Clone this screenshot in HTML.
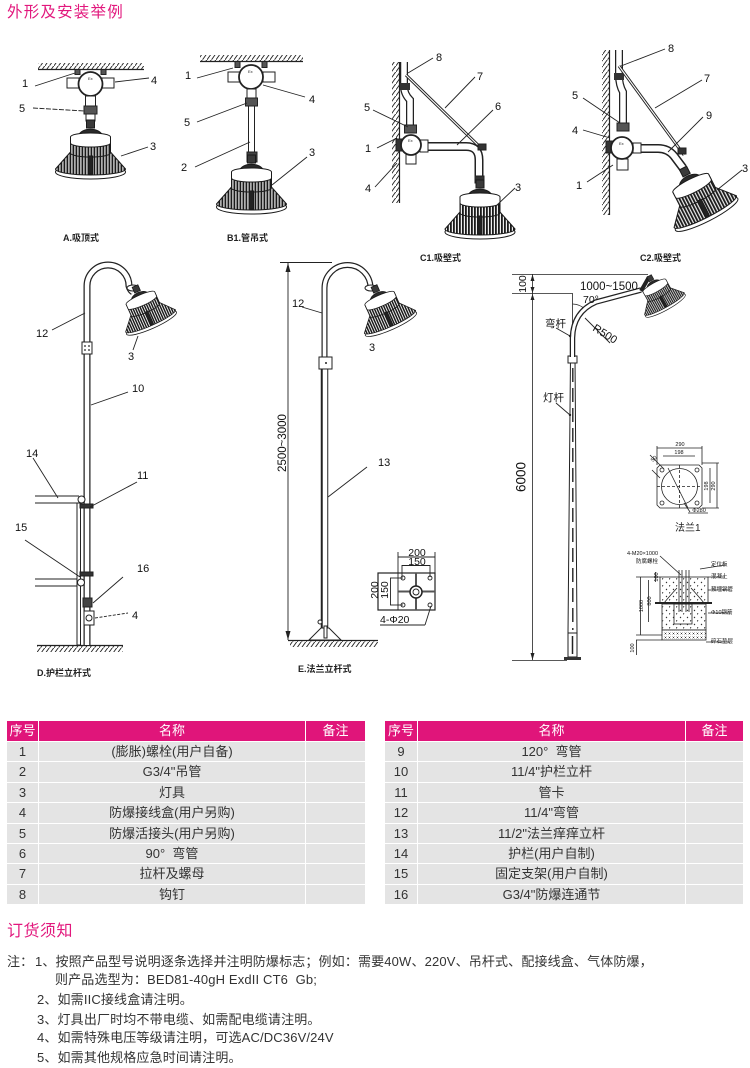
<!DOCTYPE html>
<html><head><meta charset="utf-8">
<style>
*{margin:0;padding:0;box-sizing:border-box}
body{width:750px;height:1068px;background:#fff;position:relative;overflow:hidden;font-family:"Liberation Sans","Noto Sans CJK SC",sans-serif;color:#333}
.ttl{position:absolute;color:#e2187d;font-size:15.5px;letter-spacing:1.2px;line-height:18px;white-space:nowrap}
.tbl{position:absolute;top:721px;display:grid;gap:1px;background:#fff;grid-template-rows:20px repeat(8,19.4px)}
.tbl div{background:#e4e4e4;font-size:13px;line-height:19.4px;text-align:center;color:#333;white-space:nowrap}
.tbl .h{background:#e0157a;color:#fff;line-height:20px}
.nt{position:absolute;font-size:13px;line-height:19px;white-space:nowrap;color:#333;letter-spacing:0.15px}
svg text{font-family:"Liberation Sans","Noto Sans CJK SC",sans-serif}
</style></head><body>

<div class="ttl" style="left:7px;top:4px">外形及安装举例</div>

<svg width="750" height="700" style="position:absolute;left:0;top:0" xmlns="http://www.w3.org/2000/svg">
<defs>
<pattern id="hat" width="4.5" height="6" patternUnits="userSpaceOnUse"><path d="M-0.5,6.5 L4.5,-0.5" stroke="#222" stroke-width="0.9"/></pattern>
<pattern id="fin" width="3" height="4" patternUnits="userSpaceOnUse"><rect width="3" height="4" fill="#eee"/><rect width="1.8" height="4" fill="#1a1a1a"/></pattern>
<pattern id="conc" width="7" height="7" patternUnits="userSpaceOnUse"><rect width="7" height="7" fill="#fff"/><circle cx="1.5" cy="1.5" r="0.7" fill="#333"/><path d="M4,4 l1.6,0.8 l-1.6,0.9z" fill="#333"/></pattern>
<pattern id="xs" width="4" height="4" patternUnits="userSpaceOnUse"><rect width="4" height="4" fill="#fff"/><path d="M0.5,0.5 L2.5,2.5 M2.5,0.5 L0.5,2.5" stroke="#333" stroke-width="0.5"/></pattern>
<g id="lamp" stroke="#1a1a1a" stroke-width="1">
 <rect x="-4" y="0" width="8" height="8" fill="#3a3a3a"/>
 <path d="M-12,16 C-10,7 10,7 12,16 Z" fill="#2a2a2a"/>
 <ellipse cx="0" cy="52" rx="35" ry="7" fill="#fff"/>
 <path d="M-20,32 L-35,49 A35,6 0 0 0 35,49 L20,32 Z" fill="url(#fin)"/>
 <path d="M-20,17 L-20,33 A20,4 0 0 0 20,33 L20,17 Z" fill="url(#fin)"/>
 <path d="M-20,17 A20,4 0 0 1 20,17 L20,23 A20,4 0 0 1 -20,23 Z" fill="#fff"/>
 <rect x="-2" y="36" width="4" height="18" fill="#222"/>
</g>
</defs>

<!-- ===== A ===== -->
<rect x="38" y="63" width="106" height="6" fill="url(#hat)"/>
<line x1="38" y1="69.5" x2="144" y2="69.5" stroke="#222" stroke-width="1.2"/>
<g stroke="#222" stroke-width="1">
<rect x="75" y="69.5" width="5" height="5" fill="#555"/>
<rect x="101" y="69.5" width="5" height="5" fill="#555"/>
<rect x="67" y="78" width="12" height="10" fill="#fff"/>
<rect x="102" y="78" width="12" height="10" fill="#fff"/>
<circle cx="90.5" cy="84" r="12" fill="#fff" stroke-width="1.8"/>
<rect x="85.5" y="96" width="10" height="10" fill="#fff"/>
<rect x="84" y="106" width="13" height="8" fill="#555"/>
<rect x="86" y="114" width="9" height="7" fill="#fff"/>
</g>
<text x="88" y="80" font-size="4" fill="#222">Ex</text>
<use href="#lamp" transform="translate(90.5,120)"/>
<g stroke="#222" stroke-width="0.9" fill="none">
<path d="M35,86 L75,73"/><path d="M115,82 L149,78"/><path d="M33,108 L85,111" stroke-dasharray="5 1.5"/><path d="M121,156 L148,147"/>
</g>
<g font-size="11" fill="#111">
<text x="22" y="87">1</text><text x="151" y="84">4</text><text x="19" y="112">5</text><text x="150" y="150">3</text>
</g>
<text x="63" y="241" font-size="9" font-weight="bold" fill="#222">A.吸顶式</text>

<!-- ===== B1 ===== -->
<rect x="200" y="55" width="103" height="6" fill="url(#hat)"/>
<line x1="200" y1="61.5" x2="303" y2="61.5" stroke="#222" stroke-width="1.2"/>
<g stroke="#222" stroke-width="1">
<rect x="235" y="61.5" width="5" height="6" fill="#555"/>
<rect x="262" y="61.5" width="5" height="6" fill="#555"/>
<rect x="228" y="72" width="12" height="10" fill="#fff"/>
<rect x="263" y="72" width="12" height="10" fill="#fff"/>
<circle cx="251" cy="77" r="12" fill="#fff" stroke-width="1.8"/>
<rect x="247" y="89" width="9" height="9" fill="#fff"/>
<rect x="245.5" y="98" width="12" height="8" fill="#555"/>
<rect x="248.5" y="106" width="6" height="47" fill="#fff"/>
<rect x="247" y="152" width="10" height="10" fill="#444"/>
</g>
<text x="248" y="73" font-size="4" fill="#222">Ex</text>
<use href="#lamp" transform="translate(251.5,155)"/>
<g stroke="#222" stroke-width="0.9" fill="none">
<path d="M197,78 L233,68"/><path d="M263,85 L305,97"/><path d="M197,122 L247,103"/><path d="M195,167 L250,142"/><path d="M272,185 L307,157"/>
</g>
<g font-size="11" fill="#111">
<text x="185" y="79">1</text><text x="309" y="103">4</text><text x="184" y="126">5</text><text x="181" y="171">2</text><text x="309" y="156">3</text>
</g>
<text x="227" y="241" font-size="9" font-weight="bold" fill="#222">B1.管吊式</text>

<!-- ===== C1 ===== -->
<rect x="392" y="62" width="7" height="141" fill="url(#hat)"/>
<line x1="399.5" y1="62" x2="399.5" y2="203" stroke="#222" stroke-width="1.2"/>
<path d="M404,62 L404,86 Q404,94 410,100 L410,126" stroke="#222" stroke-width="8" fill="none"/>
<path d="M404,62 L404,86 Q404,94 410,100 L410,126" stroke="#fff" stroke-width="5.5" fill="none"/>
<rect x="400" y="83" width="10" height="7" fill="#333"/>
<line x1="406" y1="75" x2="482" y2="149" stroke="#222" stroke-width="3"/>
<line x1="406" y1="75" x2="482" y2="149" stroke="#fff" stroke-width="1.1"/>
<path d="M428,146.5 L466,146.5 Q479,146.5 479,160 L479,178" stroke="#222" stroke-width="9" fill="none"/>
<path d="M428,146.5 L466,146.5 Q479,146.5 479,160 L479,178" stroke="#fff" stroke-width="6" fill="none"/>
<g stroke="#222" stroke-width="1">
<rect x="404.5" y="125" width="12" height="8" fill="#555"/>
<rect x="396" y="139" width="7" height="12" fill="#333"/>
<rect x="420" y="140" width="8" height="12" fill="#fff"/>
<rect x="406" y="152" width="10" height="12" fill="#fff"/>
<circle cx="411" cy="145" r="10" fill="#fff" stroke-width="1.8"/>
<rect x="478" y="144" width="8" height="6" fill="#333"/>
<rect x="475" y="176" width="9" height="7" fill="#333"/>
</g>
<text x="408" y="142" font-size="4" fill="#222">Ex</text>
<use href="#lamp" transform="translate(480,180)"/>
<g stroke="#222" stroke-width="0.9" fill="none">
<path d="M408,73 L433,58"/><path d="M445,108 L475,77"/><path d="M457,145 L493,110"/><path d="M373,110 L408,127"/><path d="M377,148 L397,138"/><path d="M375,187 L397,163"/><path d="M497,205 L515,188"/>
</g>
<g font-size="11" fill="#111">
<text x="436" y="61">8</text><text x="477" y="80">7</text><text x="495" y="110">6</text><text x="364" y="111">5</text><text x="365" y="152">1</text><text x="365" y="192">4</text><text x="515" y="191">3</text>
</g>
<text x="420" y="261" font-size="9" font-weight="bold" fill="#222">C1.吸壁式</text>

<!-- ===== C2 ===== -->
<rect x="602" y="50" width="7" height="165" fill="url(#hat)"/>
<line x1="609.5" y1="50" x2="609.5" y2="215" stroke="#222" stroke-width="1.2"/>
<path d="M619,50 L619,75 Q619,85 623,92 L623,125" stroke="#222" stroke-width="8" fill="none"/>
<path d="M619,50 L619,75 Q619,85 623,92 L623,125" stroke="#fff" stroke-width="5.5" fill="none"/>
<rect x="614" y="73" width="10" height="7" fill="#333"/>
<line x1="619" y1="66" x2="684" y2="155" stroke="#222" stroke-width="3"/>
<line x1="619" y1="66" x2="684" y2="155" stroke="#fff" stroke-width="1.1"/>
<path d="M640,148.5 L658,148.5 Q668,148.5 674,156 L683,168" stroke="#222" stroke-width="9" fill="none"/>
<path d="M640,148.5 L658,148.5 Q668,148.5 674,156 L683,168" stroke="#fff" stroke-width="6" fill="none"/>
<g stroke="#222" stroke-width="1">
<rect x="617" y="123" width="12" height="8" fill="#555"/>
<rect x="606" y="141" width="7" height="12" fill="#333"/>
<rect x="633" y="143" width="8" height="10" fill="#fff"/>
<rect x="617" y="159" width="11" height="11" fill="#fff"/>
<circle cx="622" cy="148" r="11" fill="#fff" stroke-width="1.8"/>
<rect x="678" y="148" width="8" height="6" fill="#333"/>
</g>
<text x="619" y="145" font-size="4" fill="#222">Ex</text>
<use href="#lamp" transform="translate(683,168) rotate(-27)"/>
<g stroke="#222" stroke-width="0.9" fill="none">
<path d="M621,66 L665,49"/><path d="M655,108 L702,80"/><path d="M583,98 L620,123"/><path d="M583,130 L610,138"/><path d="M668,152 L703,117"/><path d="M587,182 L613,165"/><path d="M717,190 L742,170"/>
</g>
<g font-size="11" fill="#111">
<text x="668" y="52">8</text><text x="704" y="82">7</text><text x="572" y="99">5</text><text x="572" y="134">4</text><text x="706" y="119">9</text><text x="576" y="189">1</text><text x="742" y="172">3</text>
</g>
<text x="640" y="261" font-size="9" font-weight="bold" fill="#222">C2.吸壁式</text>

<!-- ===== D ===== -->
<rect x="37" y="646" width="86" height="6" fill="url(#hat)"/>
<line x1="37" y1="645.5" x2="123" y2="645.5" stroke="#222" stroke-width="1.2"/>
<g stroke="#222" stroke-width="1" fill="none">
<line x1="35" y1="496" x2="79" y2="496"/><line x1="35" y1="503" x2="79" y2="503"/>
<line x1="35" y1="579" x2="78" y2="579"/><line x1="35" y1="586" x2="78" y2="586"/>
<rect x="77" y="503" width="3.5" height="142" fill="#fff"/>
</g>
<path d="M87,645 L87,286 A21,21 0 0 1 129,286 Q130,290 133,292" stroke="#222" stroke-width="7" fill="none"/>
<path d="M87,645 L87,286 A21,21 0 0 1 129,286 Q130,290 133,292" stroke="#fff" stroke-width="4.5" fill="none"/>
<g stroke="#222" stroke-width="1">
<circle cx="81.5" cy="499.5" r="3.5" fill="#fff"/>
<circle cx="81" cy="582.5" r="3.5" fill="#fff"/>
<rect x="82" y="342" width="10" height="12" fill="#fff"/>
<rect x="80" y="504" width="13" height="4" fill="#333"/>
<rect x="80" y="572" width="13" height="4" fill="#333"/>
<rect x="83" y="598" width="9" height="9" fill="#444"/>
<rect x="84" y="611" width="10" height="14" fill="#fff"/>
<circle cx="89" cy="618" r="3" fill="#fff"/>
<ellipse cx="133" cy="288" rx="6" ry="3" fill="#fff"/>
</g>
<circle cx="85" cy="346" r="0.9" fill="#222"/><circle cx="89" cy="346" r="0.9" fill="#222"/><circle cx="85" cy="350" r="0.9" fill="#222"/><circle cx="89" cy="350" r="0.9" fill="#222"/>
<use href="#lamp" transform="translate(135,286) rotate(-24) scale(0.78)"/>
<g stroke="#222" stroke-width="0.9" fill="none">
<path d="M52,330 L85,313"/><path d="M133,350 L138,336"/><path d="M91,405 L128,392"/><path d="M33,458 L58,498"/><path d="M90,507 L137,482"/><path d="M25,540 L80,577"/><path d="M123,577 L93,603"/><path d="M95,618 L128,613" stroke-dasharray="3 1.5"/>
</g>
<g font-size="11" fill="#111">
<text x="36" y="337">12</text><text x="128" y="360">3</text><text x="132" y="392">10</text><text x="26" y="457">14</text><text x="137" y="479">11</text><text x="15" y="531">15</text><text x="137" y="572">16</text><text x="132" y="619">4</text>
</g>
<text x="37" y="676" font-size="9" font-weight="bold" fill="#222">D.护栏立杆式</text>

<!-- ===== E ===== -->
<g stroke="#222" stroke-width="0.9" fill="none">
<line x1="280" y1="262.5" x2="332" y2="262.5"/>
<line x1="288" y1="262" x2="288" y2="640"/>
</g>
<polygon points="288,263 285.5,272 290.5,272" fill="#222"/>
<polygon points="288,640 285.5,631 290.5,631" fill="#222"/>
<text x="283" y="443" transform="rotate(-90 283 443)" text-anchor="middle" dominant-baseline="middle" font-size="11.5" fill="#111">2500~3000</text>
<rect x="290" y="641" width="88" height="6" fill="url(#hat)"/>
<line x1="288" y1="640.5" x2="378" y2="640.5" stroke="#222" stroke-width="1.2"/>
<path d="M324.5,628 L324.5,368" stroke="#222" stroke-width="7.5"/>
<path d="M325,628 L325,368" stroke="#fff" stroke-width="4.5"/>
<path d="M324.5,358 L324.5,288 A23,23 0 0 1 370.5,288" stroke="#222" stroke-width="6" fill="none"/>
<path d="M324.5,358 L324.5,288 A23,23 0 0 1 370.5,288" stroke="#fff" stroke-width="3.6" fill="none"/>
<g stroke="#222" stroke-width="1">
<path d="M309,640 L321,628 L329,628 L341,640 Z" fill="#fff"/>
<rect x="324" y="626" width="3" height="12" fill="#fff"/>
<circle cx="320" cy="622" r="2" fill="#fff"/>
<rect x="319" y="357" width="13" height="12" fill="#fff"/>
<ellipse cx="371" cy="288" rx="6" ry="3" fill="#fff"/>
</g>
<circle cx="326" cy="363" r="1" fill="#222"/>
<use href="#lamp" transform="translate(374,286) rotate(-24) scale(0.8)"/>
<g stroke="#222" stroke-width="0.9" fill="none">
<path d="M302,307 L322,313"/><path d="M367,467 L328,497"/>
</g>
<g font-size="11" fill="#111">
<text x="292" y="307">12</text><text x="369" y="351">3</text><text x="378" y="466">13</text>
</g>
<!-- flange plan -->
<g stroke="#222" stroke-width="0.9" fill="none">
<rect x="378" y="573" width="57" height="37" fill="#fff" stroke-width="1.2"/>
<line x1="398" y1="552" x2="398" y2="610"/>
<line x1="435" y1="552" x2="435" y2="573"/>
<line x1="398" y1="557" x2="435" y2="557"/>
<line x1="402" y1="565.5" x2="430" y2="565.5"/>
<line x1="402" y1="565" x2="402" y2="577"/><line x1="430" y1="565" x2="430" y2="577"/>
<line x1="390.5" y1="578" x2="390.5" y2="605"/>
<line x1="390" y1="578" x2="403" y2="578"/><line x1="390" y1="605" x2="403" y2="605"/>
<line x1="398" y1="591.5" x2="435" y2="591.5" stroke-width="2" stroke="#555"/>
<line x1="416" y1="573" x2="416" y2="610" stroke-width="2" stroke="#555"/>
<circle cx="403" cy="578" r="2"/><circle cx="430" cy="578" r="2"/><circle cx="403" cy="605" r="2"/><circle cx="430" cy="605" r="2"/>
<circle cx="416" cy="592" r="6" fill="#fff" stroke-width="1.5"/>
<circle cx="416" cy="592" r="3"/>
<line x1="380" y1="625" x2="425" y2="625"/><line x1="425" y1="625" x2="431" y2="606"/>
</g>
<g font-size="10.5" fill="#111" text-anchor="middle">
<text x="417" y="556">200</text><text x="417" y="565">150</text>
<text x="375" y="590" transform="rotate(-90 375 590)" dominant-baseline="middle">200</text>
<text x="385" y="590" transform="rotate(-90 385 590)" dominant-baseline="middle">150</text>
</g>
<text x="380" y="623" font-size="10.5" fill="#111">4-Φ20</text>
<text x="298" y="672" font-size="9" font-weight="bold" fill="#222">E.法兰立杆式</text>

<!-- ===== F ===== -->
<g stroke="#222" stroke-width="0.8" fill="none">
<line x1="512" y1="274.5" x2="648" y2="274.5"/>
<line x1="512" y1="293.5" x2="572" y2="293.5"/>
<line x1="532.5" y1="274" x2="532.5" y2="660"/>
<line x1="512" y1="660.5" x2="567" y2="660.5"/>
<line x1="572.5" y1="293" x2="572.5" y2="338"/>
<path d="M572.5,304 Q580,304 586,310"/>
</g>
<polygon points="532.5,274.5 530.5,281 534.5,281" fill="#222"/>
<polygon points="532.5,293 530.5,287 534.5,287" fill="#222"/>
<polygon points="532.5,294 530.5,300 534.5,300" fill="#222"/>
<polygon points="532.5,660 530.5,653 534.5,653" fill="#222"/>
<text x="523" y="284" transform="rotate(-90 523 284)" text-anchor="middle" dominant-baseline="middle" font-size="10.5" fill="#111">100</text>
<text x="522" y="477" transform="rotate(-90 522 477)" text-anchor="middle" dominant-baseline="middle" font-size="13.5" fill="#111">6000</text>
<path d="M568,633 L570.5,357 L575,357 L577,633 Z" fill="#fff" stroke="#222" stroke-width="1"/>
<line x1="572.8" y1="368" x2="572.8" y2="630" stroke="#222" stroke-width="1.4" stroke-dasharray="14 6"/>
<rect x="568" y="356" width="9" height="7" fill="#fff" stroke="#222"/>
<path d="M572.5,357 L572.5,338 Q573,312 596,302 L641,290" stroke="#222" stroke-width="5.5" fill="none"/>
<path d="M572.5,357 L572.5,338 Q573,312 596,302 L641,290" stroke="#fff" stroke-width="3" fill="none"/>
<path d="M641,291 L649,277" stroke="#222" stroke-width="4"/>
<rect x="568" y="633" width="9" height="24" fill="#fff" stroke="#222"/>
<line x1="572.5" y1="636" x2="572.5" y2="654" stroke="#222" stroke-width="1.5"/>
<rect x="564" y="657" width="17" height="3" fill="#333"/>
<use href="#lamp" transform="translate(649,276) rotate(-29) scale(0.65)"/>
<text x="580" y="290" font-size="11.5" fill="#111">1000~1500</text>
<text x="583" y="303" font-size="10.5" fill="#111">70°</text>
<text x="545" y="327" font-size="10.5" fill="#111">弯杆</text>
<text x="543" y="401" font-size="10.5" fill="#111">灯杆</text>
<text x="592" y="330" transform="rotate(32 592 330)" font-size="11" fill="#111">R500</text>
<g stroke="#222" stroke-width="0.9" fill="none">
<path d="M556,328 L570,336"/><path d="M585,318 L610,343"/><path d="M556,403 L570,415"/>
</g>
<circle cx="570" cy="336" r="1.2" fill="#222"/><circle cx="570" cy="415" r="1.2" fill="#222"/>

<!-- flange 1 -->
<g stroke="#222" stroke-width="0.8" fill="none">
<path d="M660,465 L699,465 L702,468 L702,505 L699,508 L660,508 L657,505 L657,468 Z"/>
<circle cx="679.5" cy="486.5" r="18"/>
<line x1="657" y1="486.5" x2="702" y2="486.5" stroke-dasharray="3 2"/>
<line x1="679.5" y1="465" x2="679.5" y2="508" stroke-dasharray="3 2"/>
<line x1="668" y1="468" x2="688" y2="508"/>
<circle cx="662" cy="470" r="2"/><circle cx="697" cy="470" r="2"/><circle cx="662" cy="503" r="2"/><circle cx="697" cy="503" r="2"/>
<line x1="657" y1="448" x2="702" y2="448"/><line x1="657" y1="446" x2="657" y2="465"/><line x1="702" y1="446" x2="702" y2="465"/>
<line x1="663" y1="456" x2="695" y2="456"/>
<line x1="702" y1="463" x2="719" y2="463"/><line x1="702" y1="508" x2="719" y2="508"/>
<line x1="717" y1="463" x2="717" y2="508"/><line x1="710" y1="468" x2="710" y2="503"/>
<line x1="650" y1="455" x2="664" y2="469"/><line x1="652" y1="470" x2="660" y2="478"/>
<line x1="684" y1="503" x2="690" y2="512"/><line x1="688" y1="513" x2="708" y2="513"/>
</g>
<g font-size="5.5" fill="#111" text-anchor="middle">
<text x="680" y="446">290</text><text x="679" y="454">198</text>
<text x="708" y="486" transform="rotate(-90 708 486)">198</text>
<text x="715" y="486" transform="rotate(-90 715 486)">290</text>
<text x="699" y="512">Φ280</text>
<text x="655" y="460" transform="rotate(-45 655 460)">50</text>
</g>
<text x="675" y="531" font-size="10" fill="#222">法兰1</text>

<!-- foundation -->
<g font-size="5.5" fill="#111">
<text x="627" y="555">4-M20×1000</text><text x="636" y="563">防腐螺栓</text>
<text x="711" y="566">定位板</text><text x="711" y="578">混凝土</text><text x="711" y="591">预埋钢管</text><text x="711" y="614">Φ10钢筋</text><text x="711" y="643">碎石垫层</text>
</g>
<g stroke="#222" stroke-width="0.8">
<rect x="660" y="577" width="48" height="26" fill="url(#conc)"/>
<rect x="662" y="604" width="44" height="26" fill="url(#conc)"/>
<rect x="662" y="630" width="44" height="10" fill="url(#xs)"/>
<line x1="655" y1="603" x2="712" y2="603" stroke-width="2"/>
<rect x="674" y="604" width="18" height="20" fill="none"/>
<line x1="679" y1="570" x2="679" y2="612"/><line x1="682" y1="570" x2="682" y2="612"/>
<line x1="686" y1="570" x2="686" y2="612"/><line x1="689" y1="570" x2="689" y2="612"/>
<path d="M677,588 Q668,598 664,603 M691,588 Q700,598 704,603" fill="none"/>
<line x1="660" y1="556" x2="681" y2="575"/>
<line x1="640.5" y1="577" x2="640.5" y2="635"/>
<line x1="648.5" y1="580" x2="648.5" y2="622"/>
<line x1="655.5" y1="572" x2="655.5" y2="582"/>
<line x1="636" y1="577" x2="660" y2="577"/>
<line x1="636" y1="635" x2="662" y2="635"/>
<line x1="636" y1="640" x2="662" y2="640"/>
<line x1="636.5" y1="640" x2="636.5" y2="655"/>
<line x1="706" y1="642" x2="730" y2="642"/><line x1="708" y1="613" x2="730" y2="613"/><line x1="708" y1="590" x2="730" y2="590"/><line x1="708" y1="577" x2="725" y2="577"/><line x1="700" y1="569" x2="725" y2="565"/>
</g>
<g font-size="5.5" fill="#111" text-anchor="middle">
<text x="643" y="606" transform="rotate(-90 643 606)">1000</text>
<text x="651" y="601" transform="rotate(-90 651 601)">800</text>
<text x="658" y="577" transform="rotate(-90 658 577)">100</text>
<text x="634" y="648" transform="rotate(-90 634 648)">100</text>
</g>
</svg>

<!-- tables -->
<div class="tbl" style="left:7px;grid-template-columns:31px 266px 59px">
<div class="h">序号</div><div class="h">名称</div><div class="h">备注</div>
<div>1</div><div>(膨胀)螺栓(用户自备)</div><div></div>
<div>2</div><div>G3/4"吊管</div><div></div>
<div>3</div><div>灯具</div><div></div>
<div>4</div><div>防爆接线盒(用户另购)</div><div></div>
<div>5</div><div>防爆活接头(用户另购)</div><div></div>
<div>6</div><div>90°&nbsp; 弯管</div><div></div>
<div>7</div><div>拉杆及螺母</div><div></div>
<div>8</div><div>钩钉</div><div></div>
</div>
<div class="tbl" style="left:385px;grid-template-columns:32px 267px 57px">
<div class="h">序号</div><div class="h">名称</div><div class="h">备注</div>
<div>9</div><div>120°&nbsp; 弯管</div><div></div>
<div>10</div><div>11/4"护栏立杆</div><div></div>
<div>11</div><div>管卡</div><div></div>
<div>12</div><div>11/4"弯管</div><div></div>
<div>13</div><div>11/2"法兰痒痒立杆</div><div></div>
<div>14</div><div>护栏(用户自制)</div><div></div>
<div>15</div><div>固定支架(用户自制)</div><div></div>
<div>16</div><div>G3/4"防爆连通节</div><div></div>
</div>

<!-- notes -->
<div class="ttl" style="left:7px;top:923px;font-size:16px;letter-spacing:0.5px">订货须知</div>
<div class="nt" style="left:7px;top:952px">注：</div>
<div class="nt" style="left:35px;top:952px">1、按照产品型号说明逐条选择并注明防爆标志；例如：需要40W、220V、吊杆式、配接线盒、气体防爆，</div>
<div class="nt" style="left:55px;top:970px">则产品选型为：BED81-40gH ExdII CT6&nbsp; Gb;</div>
<div class="nt" style="left:37px;top:990px">2、如需IIC接线盒请注明。</div>
<div class="nt" style="left:37px;top:1010px">3、灯具出厂时均不带电缆、如需配电缆请注明。</div>
<div class="nt" style="left:37px;top:1028px">4、如需特殊电压等级请注明，可选AC/DC36V/24V</div>
<div class="nt" style="left:37px;top:1048px">5、如需其他规格应急时间请注明。</div>
</body></html>
